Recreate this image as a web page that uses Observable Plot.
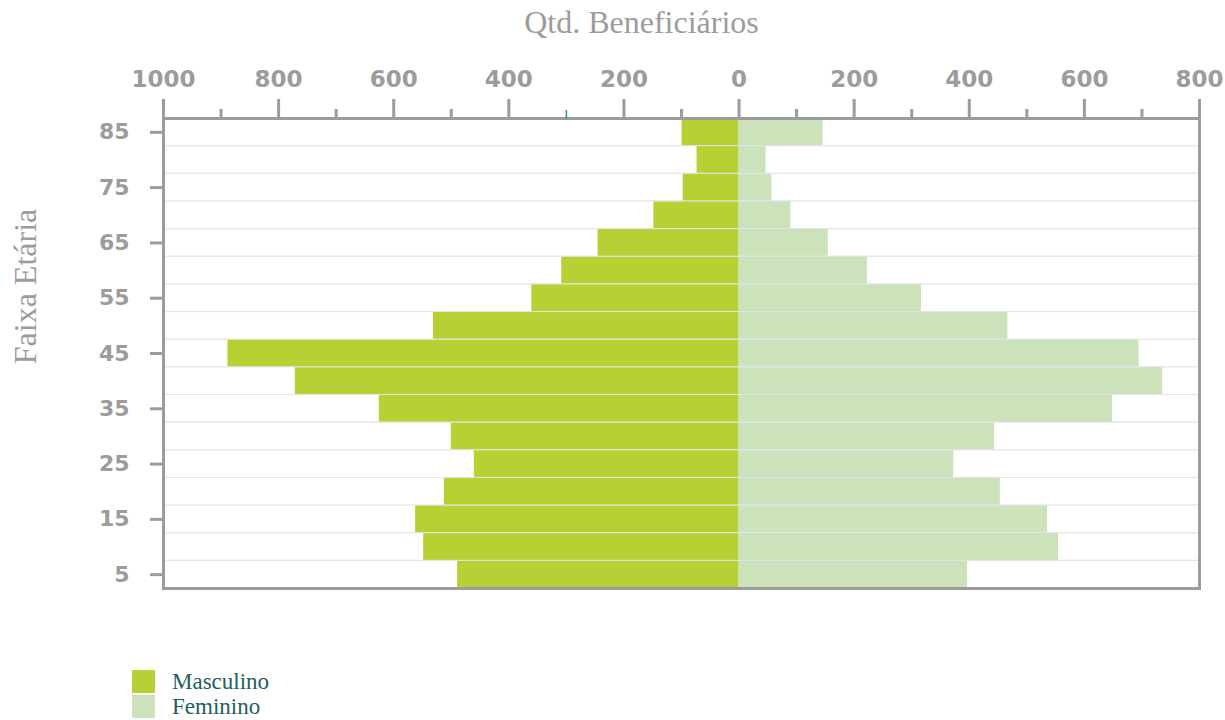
<!DOCTYPE html>
<html>
<head>
<meta charset="utf-8">
<script src="https://cdn.jsdelivr.net/npm/d3@7"></script>
<script src="https://cdn.jsdelivr.net/npm/@observablehq/plot@0.6"></script>
<style>
  html, body { margin: 0; padding: 0; background: #fff; }
  #chart svg { display: block; }
  .legend { margin-top: 40px; margin-left: 132px; font-family: "Liberation Serif", serif; font-size: 23px; line-height: 23px; color: #1e5f5c; }
  .legend .row { display: flex; align-items: center; height: 23px; margin-bottom: 2px; }
  .legend .sw { width: 23px; height: 23px; margin-right: 17px; }
</style>
</head>
<body>
<div id="chart"></div>
<script>
// Age bands (bottom to top)
const ages = [5, 10, 15, 20, 25, 30, 35, 40, 45, 50, 55, 60, 65, 70, 75, 80, 85];
const masculino = [489, 548, 562, 512, 460, 500, 625, 771, 888, 531, 360, 308, 245, 148, 97, 73, 99];
const feminino  = [397, 555, 536, 454, 373, 444, 649, 736, 695, 467, 317, 223, 155, 90, 57, 47, 146];
const ageLabels = [5, 15, 25, 35, 45, 55, 65, 75, 85];
const majorTicks = [-1000, -800, -600, -400, -200, 0, 200, 400, 600, 800];
const minorTicks = [-900, -700, -500, -100, 100, 300, 500, 700];
const oddTick = [-300];
const seriesNames = ["Masculino", "Feminino"];
const seriesColors = ["#b8d034", "#cce2bb"];
const xTitle = "Qtd. Beneficiários";
const yTitle = "Faixa Etária";

const rows = ages.map((a, i) => ({age: a, m: masculino[i], f: feminino[i]}));

const gray = "#9c9c9c";
const chart = Plot.plot({
  width: 1225,
  height: 630,
  marginTop: 118,
  marginBottom: 42,
  marginLeft: 163,
  marginRight: 26,
  style: {fontFamily: "DejaVu Sans", color: gray, background: "#fff"},
  x: {domain: [-1000, 800]},
  y: {type: "band", domain: ages.slice().reverse(), padding: 0, round: false},
  marks: [
    Plot.barX(rows, {y: "age", x1: 0, x2: d => -d.m, fill: seriesColors[0]}),
    Plot.barX(rows, {y: "age", x1: 0, x2: d => d.f, fill: seriesColors[1]}),
    Plot.barX(rows, {y: "age", x1: -1000, x2: 800, fill: "none", stroke: "#e4e4e4", strokeWidth: 1, strokeOpacity: 0.8}),
    Plot.frame({stroke: gray, strokeWidth: 3}),
    Plot.axisX({anchor: "top", ticks: majorTicks, tickSize: 20, tickPadding: 12, strokeWidth: 3,
      tickFormat: d => String(Math.abs(d)), fontSize: 23, fontWeight: "bold", label: null}),
    Plot.axisX({anchor: "top", ticks: minorTicks, tickSize: 10, strokeWidth: 3,
      tickFormat: () => "", label: null}),
    Plot.axisX({anchor: "top", ticks: oddTick, tickSize: 9, strokeWidth: 1.5, stroke: "#2a9d6a",
      tickFormat: () => "", label: null}),
    Plot.axisY({ticks: ageLabels, tickSize: 13, tickPadding: 21, strokeWidth: 3,
      fontSize: 22, fontWeight: "bold", label: null}),
    Plot.text([xTitle], {frameAnchor: "top", lineAnchor: "middle", textAnchor: "middle", dx: -40, dy: -96, fontSize: 32,
      fontFamily: "Liberation Serif", fill: gray}),
    Plot.text([yTitle], {frameAnchor: "top-left", lineAnchor: "middle", textAnchor: "middle", rotate: -90, dx: -138, dy: 168, fontSize: 32,
      fontFamily: "Liberation Serif", fill: gray})
  ]
});
document.getElementById("chart").appendChild(chart);

const legend = document.createElement("div");
legend.className = "legend";
seriesNames.forEach((n, i) => {
  const r = document.createElement("div");
  r.className = "row";
  const sw = document.createElement("div");
  sw.className = "sw";
  sw.style.background = seriesColors[i];
  const t = document.createElement("span");
  t.textContent = n;
  r.appendChild(sw); r.appendChild(t);
  legend.appendChild(r);
});
document.body.appendChild(legend);
</script>
</body>
</html>
